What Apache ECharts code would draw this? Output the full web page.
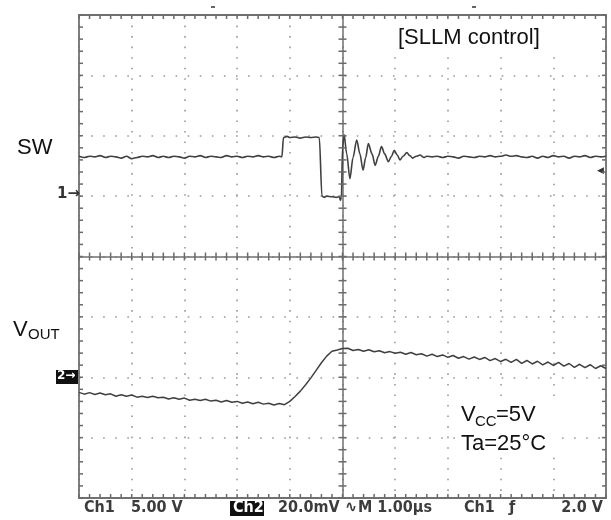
<!DOCTYPE html>
<html><head><meta charset="utf-8">
<script src="https://cdn.jsdelivr.net/npm/echarts@6/dist/echarts.min.js"></script>
<style>html,body{margin:0;padding:0;background:#fff}#c{width:611px;height:520px}</style>
</head><body><div id="c"></div>
<script>
// SW node (Ch1, 5 V/div, ground marker "1" at +1 div): time in µs, voltage in V
const swTime = [-5.0,-4.9,-4.8,-4.7,-4.6,-4.5,-4.4,-4.3,-4.2,-4.1,-4.0,-3.9,-3.8,-3.7,-3.6,-3.5,-3.4,-3.3,-3.2,-3.1,-3.0,-2.9,-2.8,-2.7,-2.6,-2.5,-2.4,-2.3,-2.2,-2.1,-2.0,-1.9,-1.8,-1.7,-1.6,-1.5,-1.4,-1.3,-1.2,
  -1.15,-1.12,-1.05,-1.0,-0.9,-0.8,-0.7,-0.6,-0.5,-0.44,-0.39,-0.35,-0.3,-0.2,-0.12,-0.06,-0.04,-0.02,0.0,0.03,0.08,0.14,0.2,0.27,0.33,0.39,0.44,0.49,0.56,0.62,0.68,0.74,0.8,0.87,0.93,0.98,1.04,1.09,1.15,1.22,1.28,1.33,1.4,1.47,1.55,1.6,
  1.7,1.8,1.9,2.0,2.1,2.2,2.3,2.4,2.5,2.6,2.7,2.8,2.9,3.0,3.1,3.2,3.3,3.4,3.5,3.6,3.7,3.8,3.9,4.0,4.1,4.2,4.3,4.4,4.5,4.6,4.7,4.8,4.9,5.0];
const swVolt = [3.3,3.2,3.3,3.25,3.35,3.2,3.3,3.25,3.15,3.3,3.1,3.2,3.3,3.25,3.35,3.2,3.3,3.2,3.3,3.25,3.15,3.3,3.25,3.35,3.2,3.3,3.25,3.2,3.35,3.25,3.3,3.2,3.3,3.25,3.35,3.25,3.3,3.2,3.3,
  3.25,4.85,4.95,4.85,4.9,4.8,4.9,4.85,4.9,4.85,0.0,-0.1,0.0,-0.05,-0.1,-0.05,-0.35,-0.1,4.0,5.1,3.5,1.45,3.2,4.65,3.5,2.15,3.2,4.35,3.5,2.55,3.3,4.1,3.5,2.85,3.3,3.8,3.4,3.0,3.3,3.6,3.35,3.15,3.3,3.4,3.2,3.3,
  3.25,3.3,3.2,3.3,3.25,3.15,3.3,3.25,3.2,3.3,3.25,3.35,3.25,3.3,3.4,3.3,3.35,3.25,3.2,3.3,3.15,3.3,3.2,3.35,3.25,3.3,3.15,3.3,3.25,3.35,3.2,3.3,3.25,3.3];
// VOUT (Ch2, 20 mV/div AC, marker "2" at -2 div): time in µs, ripple in mV
const voutTime = [-5.0,-4.9,-4.8,-4.7,-4.6,-4.5,-4.4,-4.3,-4.2,-4.1,-4.0,-3.9,-3.8,-3.7,-3.6,-3.5,-3.4,-3.3,-3.2,-3.1,-3.0,-2.9,-2.8,-2.7,-2.6,-2.5,-2.4,-2.3,-2.2,-2.1,-2.0,-1.9,-1.8,-1.7,-1.6,-1.5,-1.4,-1.3,-1.2,-1.1,
  -1.0,-0.9,-0.8,-0.7,-0.6,-0.5,-0.4,-0.3,-0.2,-0.1,0.0,
  0.1,0.2,0.3,0.4,0.5,0.6,0.7,0.8,0.9,1.0,1.1,1.2,1.3,1.4,1.5,1.6,1.7,1.8,1.9,2.0,2.1,2.2,2.3,2.4,2.5,2.6,2.7,2.8,2.9,3.0,3.1,3.2,3.3,3.4,3.5,3.6,3.7,3.8,3.9,4.0,4.1,4.2,4.3,4.4,4.5,4.6,4.7,4.8,4.9,5.0];
const voutMv = [-5.0,-5.6,-5.1,-5.7,-5.2,-5.8,-5.5,-6.3,-5.8,-6.3,-5.9,-6.6,-6.3,-6.7,-6.3,-6.8,-6.6,-7.2,-6.8,-7.3,-6.9,-7.6,-7.3,-7.7,-7.3,-7.9,-7.6,-8.2,-7.7,-8.3,-8.0,-8.6,-8.2,-8.8,-8.3,-8.9,-8.6,-9.2,-8.7,-9.1,
  -8.0,-6.4,-4.6,-2.5,-0.2,2.3,4.8,7.0,8.6,9.0,9.5,
  9.6,8.85,9.2,8.6,9.1,8.45,8.8,8.1,8.5,7.95,8.3,7.6,8.2,7.45,7.8,7.0,7.6,6.85,7.4,6.6,7.2,6.3,6.85,6.0,6.7,5.9,6.55,5.5,6.2,5.2,5.95,4.9,5.9,4.6,5.55,4.4,5.3,4.1,5.05,3.9,4.9,3.7,4.55,3.3,4.3,3.2,4.15,2.9,3.8,2.9];
// scope status line
const statusItems = ['Ch1','5.00 V','Ch2','20.0mV','\u223F','M 1.00\u00B5s','Ch1','\u0192','2.0 V'];

const zip = (a, b) => a.map((v, i) => [v, b[i]]);
const BORDER = '#707070';
const TICK = '#6a6a6a';
const GRIDDOT = '#999';
const TRACE = '#404040';

function frameX(pos, opts) {
  return Object.assign({
    type: 'value', min: -5, max: 5, interval: 1, position: pos,
    axisLabel: { show: false }, splitLine: { show: false }, axisTick: { show: false },
    axisLine: { show: true, onZero: false, lineStyle: { color: BORDER, width: 1.8 } }
  }, opts || {});
}
function frameY(pos, opts) {
  return Object.assign({
    type: 'value', min: -4, max: 4, interval: 1, position: pos,
    axisLabel: { show: false }, splitLine: { show: false }, axisTick: { show: false },
    axisLine: { show: true, onZero: false, lineStyle: { color: BORDER, width: 1.8 } }
  }, opts || {});
}
const centerLine = {
  axisLine: { show: true, onZero: true, onZeroAxisIndex: 0, lineStyle: { color: BORDER, width: 1.5 } }
};
// graticule tick positions (every 0.2 division)
const gtX = Array.from({ length: 51 }, (_, k) => -5 + 0.2 * k);
const gtY = Array.from({ length: 41 }, (_, k) => -4 + 0.2 * k);

const chart = echarts.init(document.getElementById('c'), null, { renderer: 'canvas' });
const txtFont = (size) => size + "px 'Liberation Sans', Arial, sans-serif";
const stFont = "bold 16px 'Liberation Sans Narrow', 'DejaVu Sans Condensed', 'Liberation Sans', sans-serif";
const stX = [84, 131, 233, 278, 345, 358, 464, 509, 603];

const graphics = [
  { type: 'rect', z: 10, shape: { x: 392, y: 24, width: 164, height: 32 }, style: { fill: '#fff' } },
  { type: 'rect', z: 10, shape: { x: 456, y: 401, width: 106, height: 56 }, style: { fill: '#fff' } },
  { type: 'text', z: 11, x: 398, y: 27, style: { text: '[SLLM control]', font: txtFont(22), fill: '#111' } },
  { type: 'text', z: 11, x: 461, y: 404, style: { text: 'V', font: txtFont(22), fill: '#111' } },
  { type: 'text', z: 11, x: 475, y: 414, style: { text: 'CC', font: txtFont(15), fill: '#111' } },
  { type: 'text', z: 11, x: 496, y: 404, style: { text: '=5V', font: txtFont(22), fill: '#111' } },
  { type: 'text', z: 11, x: 461, y: 433, style: { text: 'Ta=25\u00B0C', font: txtFont(22), fill: '#111' } },
  { type: 'text', z: 11, x: 17, y: 137, style: { text: 'SW', font: txtFont(22), fill: '#111' } },
  { type: 'text', z: 11, x: 13, y: 319, style: { text: 'V', font: txtFont(22), fill: '#111' } },
  { type: 'text', z: 11, x: 28, y: 327, style: { text: 'OUT', font: txtFont(15), fill: '#111' } },
  { type: 'text', z: 11, x: 57, y: 187, style: { text: '1\u2192', font: "bold 15px 'DejaVu Sans', sans-serif", fill: '#333' } },
  { type: 'rect', z: 10, shape: { x: 56, y: 370, width: 22, height: 14 }, style: { fill: '#111' } },
  { type: 'text', z: 11, x: 57, y: 370, style: { text: '2\u2192', font: "bold 12px 'DejaVu Sans', sans-serif", fill: '#fff' } },
  { type: 'text', z: 11, x: 597, y: 166, style: { text: '\u25C0', font: "9px 'DejaVu Sans', sans-serif", fill: '#333' } },
  { type: 'rect', z: 10, shape: { x: 211, y: 6, width: 4, height: 2 }, style: { fill: '#666' } },
  { type: 'rect', z: 10, shape: { x: 472, y: 6, width: 4, height: 2 }, style: { fill: '#666' } },
  { type: 'rect', z: 10, shape: { x: 230, y: 501, width: 34, height: 15 }, style: { fill: '#111' } }
];
statusItems.forEach((s, i) => {
  graphics.push({ type: 'text', z: 11, x: stX[i], y: 500, style: {
    text: s, font: stFont, fill: i === 2 ? '#fff' : '#3c3c3c', textAlign: i === statusItems.length - 1 ? 'right' : 'left' } });
});

chart.setOption({
  animation: false,
  backgroundColor: '#fff',
  grid: { left: 79, right: 5, top: 15, bottom: 22, containLabel: false },
  xAxis: [
    frameX('bottom', { splitLine: { show: true, lineStyle: { color: GRIDDOT, width: 1.6, type: [1.6, 8.94] } } }),
    frameX('top'),
    frameX('bottom', centerLine)
  ],
  yAxis: [
    frameY('left', { splitLine: { show: true, lineStyle: { color: GRIDDOT, width: 1.6, type: [1.6, 10.475] } } }),
    frameY('right'),
    frameY('left', centerLine),
    { type: 'value', show: false, min: -25, max: 15, interval: 5 },
    { type: 'value', show: false, min: -40, max: 120, interval: 20 }
  ],
  series: [
    { type: 'line', xAxisIndex: 0, yAxisIndex: 3, data: zip(swTime, swVolt), symbol: 'none', z: 5,
      smooth: 0.3, smoothMonotone: 'x', lineStyle: { color: TRACE, width: 1.6 } },
    { type: 'line', xAxisIndex: 0, yAxisIndex: 4, data: zip(voutTime, voutMv), symbol: 'none', z: 5,
      lineStyle: { color: TRACE, width: 1.5 } }
  ]
});

// graticule ticks placed through the chart's own axis scales
const pxX = (t) => chart.convertToPixel({ xAxisIndex: 0 }, t);
const pxY = (d) => chart.convertToPixel({ yAxisIndex: 0 }, d);
const tickEls = [];
const vt = (x, y0, len) => tickEls.push({ type: 'rect', z: 12,
  shape: { x: x - 0.75, y: y0, width: 1.5, height: len }, style: { fill: TICK } });
const ht = (x0, y, len) => tickEls.push({ type: 'rect', z: 12,
  shape: { x: x0, y: y - 0.75, width: len, height: 1.5 }, style: { fill: TICK } });
const yTop = pxY(4), yBot = pxY(-4), yMid = pxY(0);
const xLeft = pxX(-5), xRight = pxX(5), xMid = pxX(0);
gtX.forEach(t => {
  const x = pxX(t);
  vt(x, yTop, 4);
  vt(x, yBot - 4, 4);
  vt(x, yMid - 4, 8);
});
gtY.forEach(d => {
  const y = pxY(d);
  ht(xLeft, y, 4);
  ht(xRight - 4, y, 4);
  ht(xMid - 4, y, 8);
});
chart.setOption({ graphic: { elements: graphics.concat(tickEls) } });
</script></body></html>
